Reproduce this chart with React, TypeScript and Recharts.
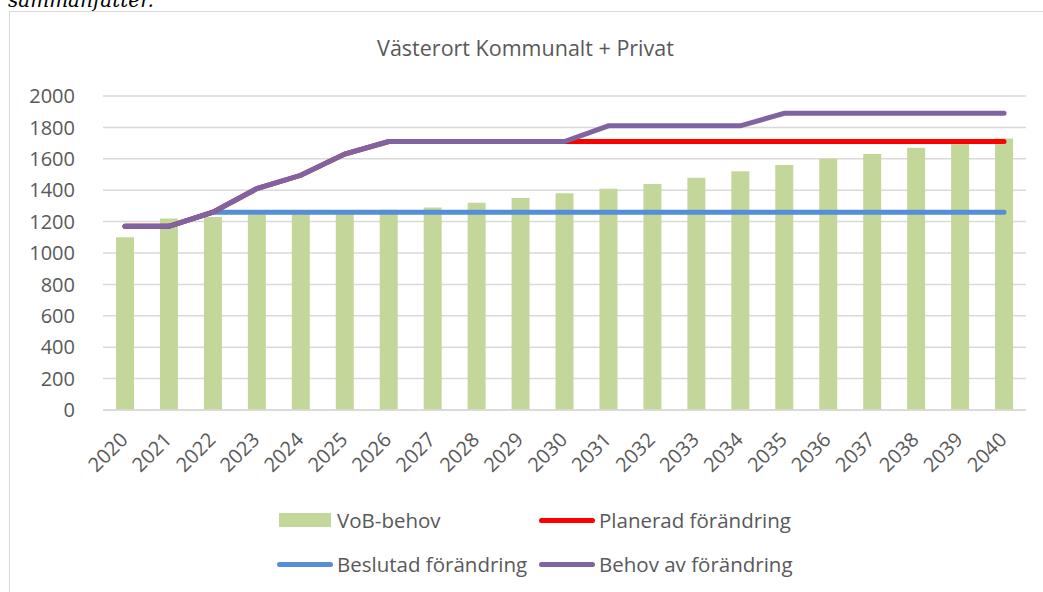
import React from "react";
import {
  ComposedChart,
  Bar,
  Line,
  XAxis,
  YAxis,
  CartesianGrid,
} from "recharts";

const years = [
  "2020", "2021", "2022", "2023", "2024", "2025", "2026", "2027", "2028", "2029", "2030",
  "2031", "2032", "2033", "2034", "2035", "2036", "2037", "2038", "2039", "2040",
];

// VoB-behov (bars)
const vobBehov = [
  1100, 1220, 1230, 1245, 1255, 1265, 1275, 1290, 1320, 1350, 1380,
  1410, 1440, 1480, 1520, 1560, 1600, 1630, 1670, 1700, 1730,
];

const beslutad = [
  1170, 1170, 1260, 1260, 1260, 1260, 1260, 1260, 1260, 1260, 1260,
  1260, 1260, 1260, 1260, 1260, 1260, 1260, 1260, 1260, 1260,
];

const planerad = [
  1170, 1170, 1260, 1410, 1495, 1630, 1710, 1710, 1710, 1710, 1710,
  1710, 1710, 1710, 1710, 1710, 1710, 1710, 1710, 1710, 1710,
];

const behov = [
  1170, 1170, 1260, 1410, 1495, 1630, 1710, 1710, 1710, 1710, 1710,
  1810, 1810, 1810, 1810, 1890, 1890, 1890, 1890, 1890, 1890,
];

const yTicks = [0, 200, 400, 600, 800, 1000, 1200, 1400, 1600, 1800, 2000];

const data = years.map((year, i) => ({
  year,
  vob: vobBehov[i],
  beslutad: beslutad[i],
  planerad: planerad[i],
  behov: behov[i],
}));

const FONT = "'Open Sans', sans-serif";
const TEXT = "#595959";
const GREEN = "#C4D79B";
const BLUE = "#558ED5";
const RED = "#FF0000";
const PURPLE = "#8064A2";

const YearTick = (props: any) => {
  const { x, y, payload } = props;
  return (
    <text
      x={x + 4}
      y={y + 31}
      textAnchor="end"
      transform={`rotate(-45 ${x + 4} ${y + 31})`}
      fill={TEXT}
      fontSize={20}
      fontFamily={FONT}
    >
      {payload.value}
    </text>
  );
};

const LegendItem = ({
  left,
  top,
  color,
  label,
  box,
}: {
  left: number;
  top: number;
  color: string;
  label: string;
  box?: boolean;
}) => (
  <div style={{ position: "absolute", left, top, height: 20, display: "flex", alignItems: "center" }}>
    {box ? (
      <div style={{ width: 52, height: 14, background: color, marginLeft: 2, marginRight: 6 }} />
    ) : (
      <div style={{ width: 56, height: 5, borderRadius: 3, background: color, marginRight: 4 }} />
    )}
    <span style={{ fontFamily: FONT, fontSize: 20.5, color: TEXT, lineHeight: "20px", whiteSpace: "nowrap" }}>
      {label}
    </span>
  </div>
);

export default function App() {
  return (
    <div
      style={{
        position: "absolute",
        left: 0,
        top: 0,
        width: 1043,
        height: 592,
        overflow: "hidden",
        background: "#fff",
      }}
    >
      <div
        style={{
          position: "absolute",
          left: 8,
          top: -10,
          fontFamily: "'DejaVu Serif', serif",
          fontStyle: "italic",
          fontSize: 20,
          lineHeight: "20px",
          color: "#000",
        }}
      >
        sammanfatter.
      </div>
      <div
        style={{
          position: "absolute",
          left: 9,
          top: 11,
          width: 1200,
          height: 800,
          border: "1.5px solid #d9d9d9",
        }}
      />
      <div
        style={{
          position: "absolute",
          left: 0,
          top: 37,
          width: 1051,
          textAlign: "center",
          fontFamily: FONT,
          fontSize: 21.5,
          lineHeight: "21.5px",
          color: TEXT,
        }}
      >
        Västerort Kommunalt + Privat
      </div>
      <div style={{ position: "absolute", left: 0, top: 0 }}>
        <ComposedChart
          width={1043}
          height={592}
          data={data}
          margin={{ top: 96, right: 17, left: 0, bottom: 0 }}
          barCategoryGap={0}
        >
          <CartesianGrid vertical={false} stroke="#d9d9d9" strokeWidth={1.5} />
          <XAxis
            dataKey="year"
            height={182}
            interval={0}
            tickLine={false}
            tickSize={0}
            tickMargin={0}
            axisLine={{ stroke: "#d9d9d9", strokeWidth: 1.5 }}
            tick={<YearTick />}
          />
          <YAxis
            width={103}
            domain={[0, 2000]}
            ticks={yTicks}
            interval={0}
            axisLine={false}
            tickLine={false}
            tickMargin={22}
            tick={{ fill: TEXT, fontSize: 20, fontFamily: FONT }}
          />
          <Bar dataKey="vob" fill={GREEN} barSize={18} isAnimationActive={false} />
          <Line
            type="linear"
            dataKey="beslutad"
            stroke={BLUE}
            strokeWidth={5}
            strokeLinecap="round"
            dot={false}
            activeDot={false}
            isAnimationActive={false}
          />
          <Line
            type="linear"
            dataKey="planerad"
            stroke={RED}
            strokeWidth={5}
            strokeLinecap="round"
            dot={false}
            activeDot={false}
            isAnimationActive={false}
          />
          <Line
            type="linear"
            dataKey="behov"
            stroke={PURPLE}
            strokeWidth={5}
            strokeLinecap="round"
            dot={false}
            activeDot={false}
            isAnimationActive={false}
          />
        </ComposedChart>
      </div>
      <LegendItem left={277} top={510} color={GREEN} label="VoB-behov" box />
      <LegendItem left={539} top={510} color={RED} label="Planerad förändring" />
      <LegendItem left={277} top={554} color={BLUE} label="Beslutad förändring" />
      <LegendItem left={539} top={554} color={PURPLE} label="Behov av förändring" />
    </div>
  );
}
